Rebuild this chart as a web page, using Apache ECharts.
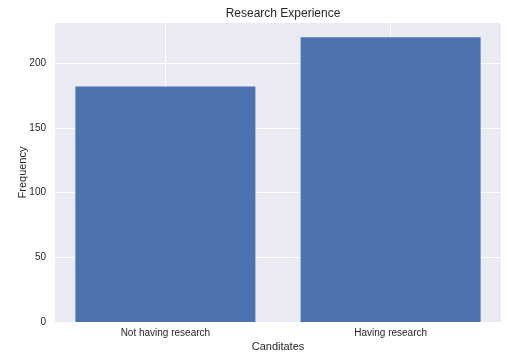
<!DOCTYPE html>
<html>
<head>
<meta charset="utf-8">
<script src="https://cdn.jsdelivr.net/npm/echarts@6/dist/echarts.min.js"></script>
<style>html,body{margin:0;padding:0;background:#fff}#c{width:508px;height:363px}</style>
</head>
<body>
<div id="c"></div>
<script>
var categories = ["Not having research", "Having research"];
var frequencies = [182, 220];
var yTicks = [0, 50, 100, 150, 200];

var chart = echarts.init(document.getElementById('c'), null, {renderer: 'canvas'});
var font = 'Liberation Sans, Arial, sans-serif';
chart.setOption({
  animation: false,
  backgroundColor: '#ffffff',
  title: {
    text: 'Research Experience', left: 278, textAlign: 'center', top: 3,
    textStyle: {fontFamily: font, fontSize: 12, fontWeight: 'normal', color: '#262626'}
  },
  grid: {left: 55, right: 7, top: 23, bottom: 41, show: true, backgroundColor: '#EAEAF2', borderWidth: 0},
  xAxis: {
    type: 'value', min: -0.49, max: 1.49,
    name: 'Canditates', nameLocation: 'middle', nameGap: 19, nameMoveOverlap: false,
    nameTextStyle: {fontFamily: font, fontSize: 11, color: '#262626'},
    axisLine: {show: false}, axisTick: {show: false, customValues: [0, 1]},
    axisLabel: {customValues: [0, 1], formatter: function (v) { return categories[Math.round(v)]; },
      fontFamily: font, fontSize: 10, color: '#262626', margin: 6},
    splitLine: {show: true, lineStyle: {color: '#ffffff', width: 1}}
  },
  yAxis: {
    type: 'value', min: 0, max: 231,
    name: 'Frequency', nameLocation: 'middle', nameGap: 27, nameMoveOverlap: false,
    nameTextStyle: {fontFamily: font, fontSize: 11, color: '#262626'},
    axisLine: {show: false}, axisTick: {show: false, customValues: yTicks},
    axisLabel: {customValues: yTicks, fontFamily: font, fontSize: 10, color: '#262626', margin: 9},
    splitLine: {show: true, lineStyle: {color: '#ffffff', width: 1}}
  },
  series: [{
    type: 'bar',
    data: categories.map(function (c, i) { return [i, frequencies[i]]; }),
    barWidth: 180,
    itemStyle: {color: '#4C72B0'}
  }]
});
</script>
</body>
</html>
